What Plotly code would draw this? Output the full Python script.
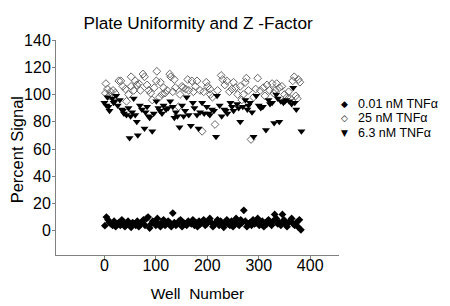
import plotly.graph_objects as go

# 0.01 nM TNFa (filled diamonds)
x_low = [1,4,7,10,13,16,19,22,25,28,31,34,37,40,43,46,49,52,55,58,61,64,67,70,73,76,79,82,85,88,91,94,97,100,103,106,109,112,115,118,121,124,127,130,133,136,139,142,145,148,151,154,157,160,163,166,169,172,175,178,181,184,187,190,193,196,199,202,205,208,211,214,217,220,223,226,229,232,235,238,241,244,247,250,253,256,259,262,265,268,271,274,277,280,283,286,289,292,295,298,301,304,307,310,313,316,319,322,325,328,331,334,337,340,343,346,349,352,355,358,361,364,367,370,373,376,379,382]
y_low = [3.7,10,8,6,5,4,7,3,5,6,
         4,8,6,3,5,7,4,2.5,6,5,
         4,7,3,5,6,8,4,9,10,2,
         5,7,6,4,9,5,3,6,8,4,
         5,7,6,3,13,6,4,5,7,8,
         3,6,5,4,7,6,5,8,4,6,
         3,7,5,6,8,4,5,7,9,6,
         3,5,6,8,4,7,5,2.5,6,8,
         5,4,7,3,6,9,5,4,8,6,
         15,7,3,5,6,4,8,5,6,9,
         4,5,7,3,6,5,8,6,4,7,
         12,9,5,6,4,12,8,5,3,6,
         7,9,5,4,6,3,8,0.7]

# 25 nM TNFa (open diamonds)
x_hi = [2,3,6,12,21,28,32,41,43,52,52,57,60,63,70,75,78,83,86,93,
        102,101,109,107,115,118,127,129,136,138,144,151,153,162,164,170,173,180,186,190,
        198,201,205,206,215,227,230,238,248,251,259,264,267,274,276,280,285,290,298,303,
        309,316,321,326,329,335,340,345,350,355,361,366,369,372,377,380,
        9,17,36,47,67,90,97,112,122,133,147,158,177,193,210,220,234,243,255,270,294,312,332,358,375]
y_hi = [101,108,104,102,101,110,110,104,95,106,113,103,110,107,103,115,113,107,103,96,
        117,110,109,98,105,101,115,113,111,105,91,106,105,111,103,110,102,110,103,73,
        109,106,104,100,78,114,111,110,104,109,100,106,96,109,112,103,67,98,112,103,
        105,107,103,108,101,108,105,106,100,98,97,110,113,99,111,109,
        99,103,106,100,108,101,105,100,103,102,100,104,106,102,98,103,107,102,105,100,104,99,103,102,97]

# 6.3 nM TNFa (filled down-triangles)
x_mid = [0,4,6,10,15,18,23,26,30,34,38,43,47,49,54,57,60,63,65,69,
         73,78,83,86,93,96,101,105,112,115,120,128,133,136,142,146,151,154,160,164,
         168,172,180,183,190,194,199,205,209,217,219,224,228,233,239,245,251,258,264,269,
         274,278,283,290,295,300,308,314,319,326,330,334,340,343,348,353,359,367,373,383,
         8,20,36,51,80,88,108,124,139,157,175,186,202,213,236,248,261,280,287,304,322,337,351,364,370]
y_mid = [94,92,98,88,97,94,99,92,96,89,86,85,90,68,87,97,85,80,70,92,
         89,75,91,84,73,86,95,90,86,92,89,95,91,83,84,76,92,84,98,85,
         77,94,85,75,94,86,91,85,89,69,99,92,84,89,86,94,88,93,80,91,
         96,89,94,69,99,92,91,74,96,94,79,100,80,95,94,96,95,105,89,73,
         91,95,88,84,87,83,88,90,87,88,90,87,86,88,88,91,90,92,87,90,93,97,95,93,94]

series_names = ["0.01 nM TNF\u03b1", "25 nM TNF\u03b1", "6.3 nM TNF\u03b1"]
legend_glyphs = ["\u25c6", "\u25c7", "\u25bc"]

x_ticks = [0, 100, 200, 300, 400]
y_ticks = [0, 20, 40, 60, 80, 100, 120, 140]

FONT = "Liberation Sans, Arial, sans-serif"

fig = go.Figure()
fig.add_trace(go.Scatter(x=x_hi, y=y_hi, mode="markers", name=series_names[1],
                         marker=dict(symbol="diamond-open", size=6, color="#666666",
                                     line=dict(width=1, color="#666666"))))
fig.add_trace(go.Scatter(x=x_mid, y=y_mid, mode="markers", name=series_names[2],
                         marker=dict(symbol="triangle-down", size=7, color="black",
                                     line=dict(width=0))))
fig.add_trace(go.Scatter(x=x_low, y=y_low, mode="markers", name=series_names[0],
                         marker=dict(symbol="diamond", size=6, color="black",
                                     line=dict(width=0))))

axis_common = dict(showgrid=False, zeroline=False, showline=True, linecolor="#808080",
                   linewidth=1, ticks="outside", ticklen=3, tickcolor="#808080",
                   automargin=False,
                   tickfont=dict(family=FONT, size=16, color="black"))

fig.update_xaxes(range=[-94, 456], tickvals=x_ticks, ticklabelstandoff=-7,
                 title=dict(text="Well  Number", font=dict(family=FONT, size=15.5, color="black"),
                            standoff=14),
                 **axis_common)
fig.update_yaxes(range=[-17.8, 140], tickvals=y_ticks, ticklabelstandoff=-2,
                 **axis_common)

annotations = [dict(xref="paper", yref="paper", x=-0.137, y=0.488, text="Percent Signal",
                    textangle=-90, showarrow=False, xanchor="center", yanchor="middle",
                    borderpad=0,
                    font=dict(family=FONT, size=16.5, color="black"))]
leg_y = [0.703, 0.636, 0.568]
for i in range(3):
    annotations.append(dict(xref="paper", yref="paper", x=1.021, y=leg_y[i],
                            text=legend_glyphs[i], showarrow=False, xanchor="center",
                            yanchor="middle", font=dict(family="DejaVu Sans", size=9, color="black")))
    annotations.append(dict(xref="paper", yref="paper", x=1.06, y=leg_y[i],
                            text=series_names[i], showarrow=False, xanchor="left",
                            yanchor="middle", font=dict(family=FONT, size=12.5, color="black")))

# The page shows the figure 8px in from the top-left corner.
fig.update_layout(
    width=442, height=298,
    margin=dict(l=48, r=111, t=32, b=51),
    paper_bgcolor="white", plot_bgcolor="white",
    showlegend=False,
    title=dict(text="Plate Uniformity and Z -Factor", x=0.43, xanchor="center",
               xref="container", yref="container", automargin=False,
               y=0.95, yanchor="middle", font=dict(family=FONT, size=17.2, color="black")),
    annotations=annotations,
)

fig.write_html("out.html")
